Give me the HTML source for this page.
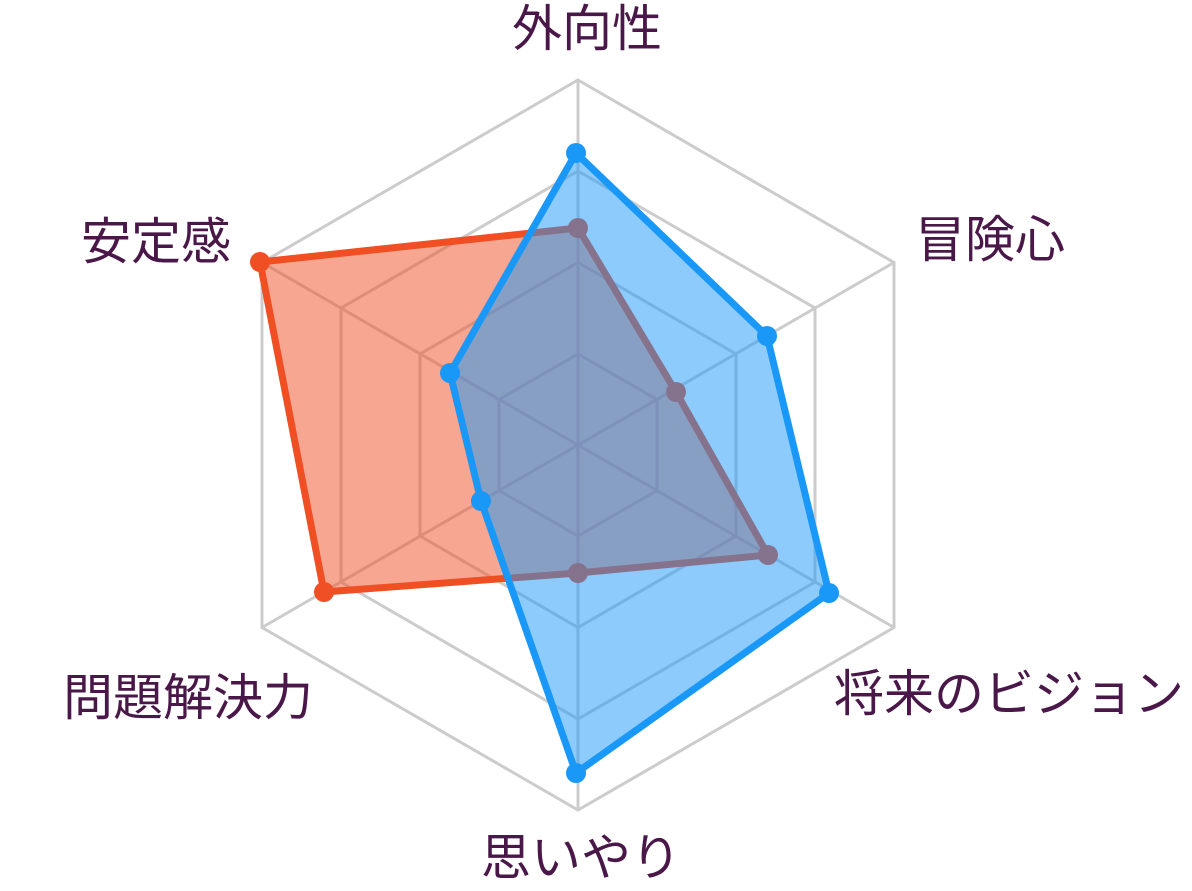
<!DOCTYPE html>
<html><head><meta charset="utf-8"><style>
html,body{margin:0;padding:0;background:#fff;}
svg{display:block;}
text{font-family:"Liberation Sans","Noto Sans CJK JP",sans-serif;font-size:50px;fill:#4a1848;}
</style></head><body>
<svg width="1192" height="891" viewBox="0 0 1192 891">
<g fill="none" stroke="#cccccc" stroke-width="3">
<polygon points="578,80 894,262.5 894,627.5 578,810 262,627.5 262,262.5"/>
<polygon points="578,171 815,308 815,582 578,719 341,582 341,308"/>
<polygon points="578,262.5 736,354 736,536 578,627.5 420,536 420,354"/>
<polygon points="578,354 657,399.5 657,490.5 578,536 499,490.5 499,399.5"/>
<line x1="578" y1="80" x2="578" y2="810"/>
<line x1="262" y1="262.5" x2="894" y2="627.5"/>
<line x1="894" y1="262.5" x2="262" y2="627.5"/>
</g>
<polygon points="578,228 676,392 768,555 578,573 324,592 260,262" fill="rgba(240,78,35,0.5)" stroke="#f04e23" stroke-width="7" stroke-linejoin="round"/>
<g fill="#f04e23"><circle cx="578" cy="228" r="10"/><circle cx="676" cy="392" r="10"/><circle cx="768" cy="555" r="10"/><circle cx="578" cy="573" r="10"/><circle cx="324" cy="592" r="10"/><circle cx="260" cy="262" r="10"/></g>
<polygon points="576,153 767,336 829,593 576,773 481,501 450,373" fill="rgba(26,152,248,0.5)" stroke="#1a98f8" stroke-width="7" stroke-linejoin="round"/>
<g fill="#1a98f8"><circle cx="576" cy="153" r="10"/><circle cx="767" cy="336" r="10"/><circle cx="829" cy="593" r="10"/><circle cx="576" cy="773" r="10"/><circle cx="481" cy="501" r="10"/><circle cx="450" cy="373" r="10"/></g>
<text x="587" y="46" text-anchor="middle">外向性</text>
<text x="915" y="257">冒険心</text>
<text x="834" y="711">将来のビジョン</text>
<text x="581" y="875" text-anchor="middle">思いやり</text>
<text x="313" y="715" text-anchor="end">問題解決力</text>
<text x="231" y="259" text-anchor="end">安定感</text>
</svg>
</body></html>
